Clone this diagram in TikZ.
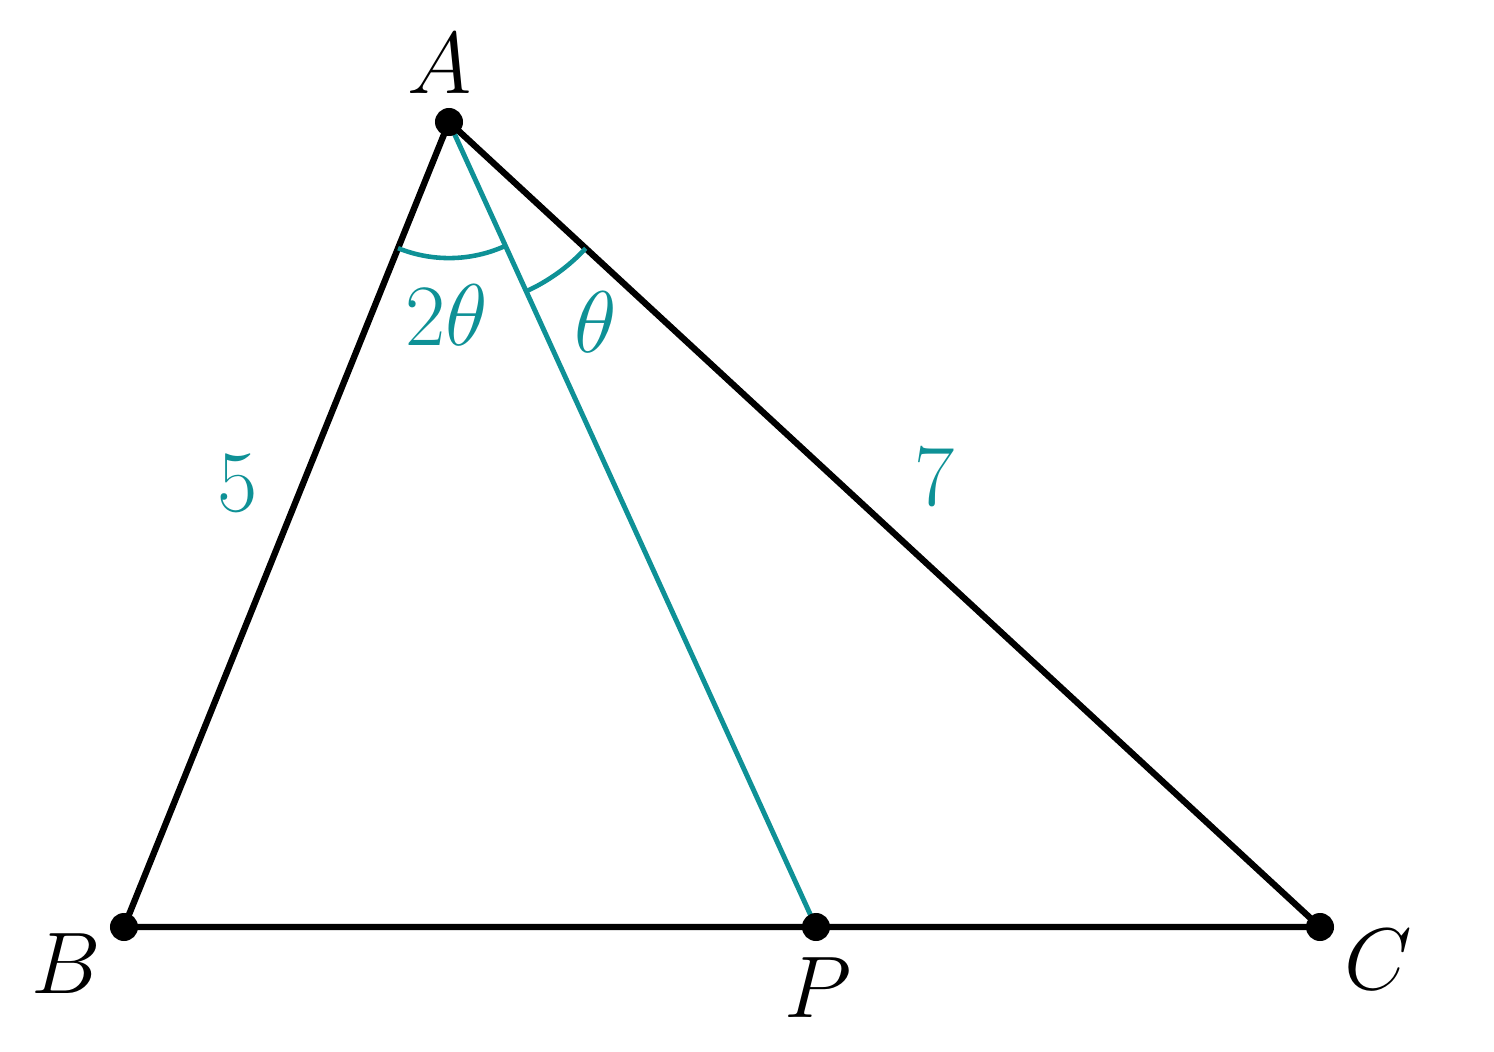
\documentclass[tikz,border=0pt]{standalone}
\usetikzlibrary{calc}
\definecolor{tealc}{RGB}{14,145,150}
\begin{document}
\begin{tikzpicture}[x=0.01cm,y=-0.01cm,
  edge/.style={line width=1.8pt,black},
  cevian/.style={line width=1.4pt,tealc},
  angarc/.style={line width=1.3pt,tealc},
  dotn/.style={circle,fill=black,inner sep=0pt,minimum size=0.28cm},
  lbl/.style={font=\fontsize{25}{30}\selectfont},
  tlbl/.style={font=\fontsize{25}{30}\selectfont,text=tealc}]
\useasboundingbox (0,0) rectangle (1494,1052);
\coordinate (A) at (449,122);
\coordinate (B) at (124,927);
\coordinate (C) at (1320,927);
\coordinate (P) at (816,927);
\draw[edge] (B) -- (A) -- (C) -- (B);
\draw[cevian] (A) -- (P);
% angle arcs
\draw[angarc] ($(A)!1.36cm!(B)$) arc[start angle=-112.0, end angle=-65.5, radius=1.36cm];
\draw[angarc] ($(A)!1.86cm!(P)$) arc[start angle=-65.5, end angle=-42.75, radius=1.86cm];
\node[dotn] (dA) at (A) {};
\node[dotn] (dB) at (B) {};
\node[dotn] (dC) at (C) {};
\node[dotn] (dP) at (P) {};
\node[lbl] (lA) at (440,64) {$A$};
\node[lbl] (lB) at (66,964) {$B$};
\node[lbl] (lP) at (818,988) {$P$};
\node[lbl] (lC) at (1378,960) {$C$};
\node[tlbl] (l2t) at (447,315) {$2\theta$};
\node[tlbl] (lt) at (596,322) {$\theta$};
\node[tlbl] (l5) at (238,483) {$5$};
\node[tlbl] (l7) at (935,477) {$7$};
\end{tikzpicture}
\end{document}
